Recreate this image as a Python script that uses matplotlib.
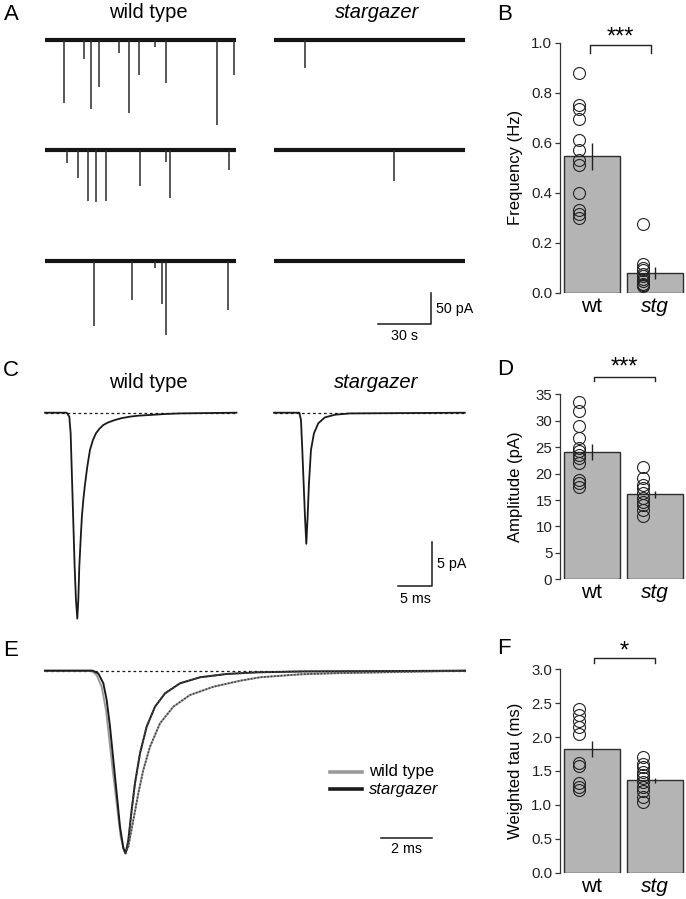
import numpy as np
import matplotlib.pyplot as plt

plt.rcParams['font.family'] = ['Liberation Sans', 'DejaVu Sans']

W, H = 686, 899
fig = plt.figure(figsize=(W / 100, H / 100), dpi=100)

# ---- panel A: spontaneous events, times (s) and amplitudes (pA) per sweep
wt_times = [
    [10.8, 22.1, 26.0, 30.6, 41.9, 47.5, 53.2, 62.3, 68.5, 97.3, 107.0],
    [12.5, 18.7, 24.3, 28.9, 34.5, 53.8, 68.5, 70.7, 104.1],
    [27.7, 49.2, 62.3, 66.2, 68.5, 103.6],
]
wt_amps = [
    [102, 31, 111, 76, 21, 118, 56, 11, 69, 137, 56],
    [21, 45, 82, 84, 81, 58, 19, 77, 31],
    [105, 63, 11, 69, 118, 79],
]
stg_times = [[17.4], [67.9], []]
stg_amps = [[45], [50], []]
sweep_len = 108.0  # s

# ---- panel C: averaged mEPSCs (ms, pA)
wt_c_t = [0, 3.25, 3.65, 3.85, 4.0, 4.15, 4.3, 4.45, 4.65, 4.85, 5.0, 5.15, 5.4, 5.55,
          5.75, 6.0, 6.35, 6.75, 7.2, 7.65, 8.2, 8.75, 9.5, 10.5, 11.5, 12.75, 14.0,
          15.75, 18.0, 20.25, 28.75]
wt_c_i = [0, 0, -0.45, -2.34, -6.13, -9.92, -13.7, -17.5, -21.3, -23.4, -21.3, -17.5, -13.7,
          -11.7, -9.92, -8.2, -6.13, -4.24, -3.1, -2.34, -1.8, -1.40, -1.1, -0.83, -0.62,
          -0.45, -0.34, -0.26, -0.15, -0.08, 0]
stg_c_t = [0, 3.8, 4.05, 4.25, 4.45, 4.65, 4.85, 5.05, 5.25, 5.55, 6.0, 6.65, 7.65,
           9.15, 11.4, 28.65]
stg_c_i = [0, 0, -0.83, -4.24, -8.02, -11.8, -14.9, -11.8, -8.02, -4.24, -2.34, -1.2, -0.53,
           -0.23, -0.08, 0]

# ---- panel E: peak-normalised mEPSCs
wt_e_t = [0, 1.8, 2.003, 2.196, 2.364, 2.481, 2.623, 2.778, 2.933, 3.101, 3.23, 3.424,
          3.618, 3.811, 4.07, 4.457, 4.974, 5.62, 6.525, 7.558, 8.333, 9.88, 11.16, 13.76, 16.28]
wt_e_y = [0, 0, -0.024, -0.088, -0.215, -0.361, -0.543, -0.726, -0.909, -1.0, -0.963, -0.817,
          -0.671, -0.543, -0.416, -0.288, -0.197, -0.133, -0.088, -0.055, -0.036, -0.02,
          -0.014, -0.007, 0]
stg_e_t = [0, 1.85, 2.067, 2.261, 2.39, 2.519, 2.649, 2.778, 2.907, 3.036, 3.127, 3.23,
           3.359, 3.488, 3.682, 3.941, 4.264, 4.651, 5.233, 6.008, 7.041, 8.204, 10.0, 16.28]
stg_e_y = [0, 0, -0.015, -0.069, -0.16, -0.306, -0.489, -0.671, -0.854, -0.972, -1.0, -0.927,
           -0.762, -0.616, -0.452, -0.306, -0.197, -0.124, -0.069, -0.036, -0.018, -0.009,
           -0.004, 0]

# ---- bar panels: individual cells, mean, sem
groups = ['wt', 'stg']
freq_wt = [0.88, 0.75, 0.735, 0.695, 0.61, 0.57, 0.53, 0.51, 0.40, 0.33, 0.315, 0.30]
freq_stg = [0.275, 0.115, 0.10, 0.09, 0.075, 0.065, 0.055, 0.045, 0.035, 0.03, 0.025]
freq_mean = [0.545, 0.078]
freq_sem = [0.053, 0.023]

amp_wt = [33.6, 31.8, 29.0, 26.7, 24.8, 24.2, 23.5, 22.9, 22.0, 18.8, 18.2, 17.5]
amp_stg = [21.3, 19.1, 17.8, 17.2, 16.3, 15.3, 14.7, 14.1, 13.1, 12.0]
amp_mean = [24.1, 16.1]
amp_sem = [1.45, 0.7]

tau_wt = [2.41, 2.33, 2.24, 2.15, 2.05, 1.62, 1.57, 1.32, 1.27, 1.22]
tau_stg = [1.71, 1.61, 1.56, 1.49, 1.44, 1.39, 1.34, 1.27, 1.20, 1.12, 1.05]
tau_mean = [1.82, 1.36]
tau_sem = [0.12, 0.04]

INK = '#1a1a1a'


def px_axes(x0, y0, x1, y1):
    ax = fig.add_axes([x0 / W, 1 - y1 / H, (x1 - x0) / W, (y1 - y0) / H])
    return ax


def ftext(x, y, s, **kw):
    fig.text(x / W, 1 - y / H, s, **kw)


# ================= panel A
axA = px_axes(40, 28, 480, 345)
sx, sy = 53 / 30.0, 31 / 50.0  # px per s, px per pA
axA.set_xlim((40 - 45) / sx, (480 - 45) / sx)
axA.set_ylim(-(345 - 40) / sy, (40 - 28) / sy)
axA.set_axis_off()
row_off = [0, -178, -357]
stg_x0 = (274 - 45) / sx
for i in range(3):
    for x0, tt, aa in [(0, wt_times[i], wt_amps[i]), (stg_x0, stg_times[i], stg_amps[i])]:
        axA.hlines(row_off[i], x0, x0 + sweep_len, color='#151515', lw=3.0)
        if tt:
            tt = np.array(tt) + x0
            axA.vlines(tt, row_off[i], row_off[i] - np.array(aa), color='#2a2a2a', lw=1.1)
# scale bar 50 pA / 30 s
cx, cy = (431 - 45) / sx, -(324 - 40) / sy
axA.plot([cx - 30, cx, cx], [cy, cy, cy + 50], color=INK, lw=1.1)
axA.text(cx + 3, cy + 25, '50 pA', fontsize=10.3, va='center', ha='left')
axA.text(cx - 15, cy - 8, '30 s', fontsize=10.3, va='top', ha='center')

ftext(4, 14, 'A', fontsize=16, va='center', ha='left')
ftext(148, 13, 'wild type', fontsize=14.5, va='center', ha='center')
ftext(377, 13, 'stargazer', fontsize=14.5, va='center', ha='center', style='italic')

# ================= panel C
axC = px_axes(40, 395, 480, 630)
cxs, cys = 33.3 / 5.0, 44 / 5.0  # px per ms, px per pA
axC.set_xlim((40 - 45) / cxs, (480 - 45) / cxs)
axC.set_ylim(-(630 - 412.7) / cys, (412.7 - 395) / cys)
axC.set_axis_off()
stg_c0 = (274 - 45) / cxs
axC.plot(wt_c_t, wt_c_i, color=INK, lw=1.3)
axC.plot(np.array(stg_c_t) + stg_c0, stg_c_i, color=INK, lw=1.3)
for x0, L in [(0, wt_c_t[-1]), (stg_c0, stg_c_t[-1])]:
    axC.plot([x0, x0 + L], [0, 0], color=INK, lw=0.9, ls=(0, (2.2, 2.2)))
bx, by = (431.7 - 45) / cxs, -(585.7 - 412.7) / cys
axC.plot([bx - 5, bx, bx], [by, by, by + 5], color=INK, lw=1.1)
axC.text(bx + 0.8, by + 2.5, '5 pA', fontsize=10.3, va='center', ha='left')
axC.text(bx - 2.5, by - 0.7, '5 ms', fontsize=10.3, va='top', ha='center')

ftext(3, 370, 'C', fontsize=16, va='center', ha='left')
ftext(148, 382, 'wild type', fontsize=14.5, va='center', ha='center')
ftext(376, 382, 'stargazer', fontsize=14.5, va='center', ha='center', style='italic')

# ================= panel E
axE = px_axes(40, 660, 480, 875)
exs, eys = 25.8, 182.7
axE.set_xlim((40 - 45) / exs, (480 - 45) / exs)
axE.set_ylim(-(875 - 670.7) / eys, (670.7 - 660) / eys)
axE.set_axis_off()
axE.plot([0, wt_e_t[-1]], [0, 0], color=INK, lw=0.9, ls=(0, (2.2, 2.2)))
axE.plot(wt_e_t, wt_e_y, color='#9a9a9a', lw=1.4)
axE.plot(stg_e_t, stg_e_y, color=INK, lw=1.4)
pk_w = int(np.argmin(wt_e_y))
pk_s = int(np.argmin(stg_e_y))
axE.plot(wt_e_t[pk_w:], wt_e_y[pk_w:], color='#444444', lw=1.2, ls=(0, (1, 1)))
axE.plot(stg_e_t[pk_s:], stg_e_y[pk_s:], color='#444444', lw=1.2, ls=(0, (1, 1)))
# legend
lx0, lx1 = (330 - 45) / exs, (361.7 - 45) / exs
ly1, ly2 = -(771.7 - 670.7) / eys, -(789.3 - 670.7) / eys
axE.plot([lx0, lx1], [ly1, ly1], color='#9a9a9a', lw=2.6)
axE.plot([lx0, lx1], [ly2, ly2], color=INK, lw=2.6)
tx = (369.3 - 45) / exs
axE.text(tx, ly1, 'wild type', fontsize=12, va='center', ha='left')
axE.text(tx, ly2, 'stargazer', fontsize=12, va='center', ha='left', style='italic')
sb0, sb1 = (380.7 - 45) / exs, (432.3 - 45) / exs
sby = -(838.3 - 670.7) / eys
axE.plot([sb0, sb1], [sby, sby], color=INK, lw=1.1)
axE.text((sb0 + sb1) / 2, sby - 0.02, '2 ms', fontsize=10.3, va='top', ha='center')

ftext(3, 650, 'E', fontsize=16, va='center', ha='left')


# ================= bar panels
def bar_panel(top, bottom, ymax, ticks, fmt, cells, mean, sem, ylabel,
              letter, ly, br_y, br_tick, br_x, stars, star_y):
    ax = px_axes(560, top, 686, bottom)
    ax.set_xlim((560 - 592) / 63.35, (686 - 592) / 63.35)
    ax.set_ylim(0, ymax)
    x = np.arange(len(groups))
    ax.bar(x, mean, width=0.884, color='#b4b4b4', edgecolor='#2e2e2e', lw=1.0, zorder=1)
    for xi, vals in zip(x, cells):
        ax.plot(np.full(len(vals), xi - 0.2), vals, 'o', ms=8.6, mfc='none',
                mec='#222222', mew=0.8, zorder=3)
    ax.errorbar(x, mean, yerr=sem, fmt='none', ecolor='#222222', elinewidth=1.0,
                capsize=0, zorder=2)
    for s in ['top', 'right', 'bottom']:
        ax.spines[s].set_visible(False)
    ax.spines['left'].set_color('#333333')
    ax.spines['left'].set_linewidth(0.9)
    ax.set_yticks(ticks)
    ax.set_yticklabels([fmt.format(t) for t in ticks])
    ax.tick_params(axis='y', direction='out', length=3.5, width=0.9, color='#333333',
                   labelsize=10.8, pad=2, labelcolor='#222222')
    ax.set_xticks(x)
    ax.set_xticklabels(groups)
    ax.get_xticklabels()[1].set_style('italic')
    ax.tick_params(axis='x', length=0, labelsize=15, pad=3)
    ax.set_ylabel(ylabel, fontsize=12)
    ax.yaxis.set_label_coords((523 - 560) / 126, 0.5)
    # significance bracket
    ax.plot([br_x[0], br_x[0], br_x[1], br_x[1]], [br_tick, br_y, br_y, br_tick],
            color='#222222', lw=1.0, clip_on=False)
    ax.text(sum(br_x) / 2, star_y, stars, fontsize=17, ha='center', va='center',
            clip_on=False)
    ftext(497, ly, letter, fontsize=16, va='center', ha='left')
    return ax


bar_panel(42.7, 292.7, 1.0, np.arange(0, 1.01, 0.2), '{:.1f}', [freq_wt, freq_stg],
          freq_mean, freq_sem, 'Frequency (Hz)', 'B', 14,
          0.99, 0.957, (-0.03, 0.93), '***', 1.022)
bar_panel(394.3, 579.3, 35, np.arange(0, 36, 5), '{:d}', [amp_wt, amp_stg],
          amp_mean, amp_sem, 'Amplitude (pA)', 'D', 369.5,
          38.2, 37.5, (0.036, 0.994), '***', 40.1)
bar_panel(669.3, 872.7, 3.0, np.arange(0, 3.01, 0.5), '{:.1f}', [tau_wt, tau_stg],
          tau_mean, tau_sem, 'Weighted tau (ms)', 'F', 648,
          3.16, 3.09, (0.03, 0.99), '*', 3.26)

fig.savefig('out.png', dpi=100)
